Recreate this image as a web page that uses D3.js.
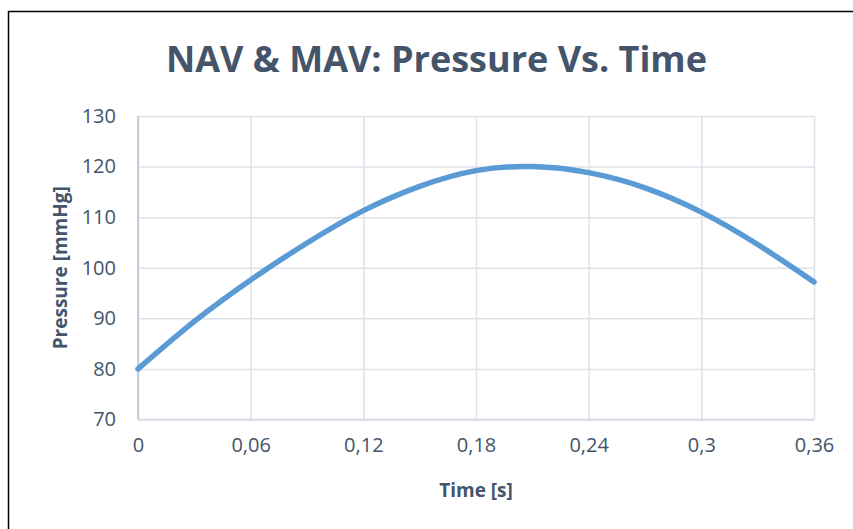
<!DOCTYPE html>
<html>
<head>
<meta charset="utf-8">
<script src="https://cdn.jsdelivr.net/npm/d3@7"></script>
<style>
  html, body { margin: 0; padding: 0; background: #fff; }
  svg { display: block; }
</style>
</head>
<body>
<svg id="chart" width="853" height="529"></svg>
<script>
// Aortic pressure over one cardiac cycle
const timeS = [0, 0.03, 0.06, 0.09, 0.12, 0.15, 0.18, 0.21, 0.24, 0.27, 0.30, 0.33, 0.36];
const pressureMmHg = [80, 89.4, 97.6, 104.9, 111.3, 116.1, 119.2, 120.0, 118.8, 115.8, 111.0, 104.6, 97.2];
const xTicks = [0, 0.06, 0.12, 0.18, 0.24, 0.3, 0.36];
const yTicks = [70, 80, 90, 100, 110, 120, 130];

const titleText = "NAV & MAV: Pressure Vs. Time";
const xTitle = "Time [s]";
const yTitle = "Pressure [mmHg]";

const textColor = "#44546a";
const font = "'Open Sans', 'DejaVu Sans', sans-serif";

const svg = d3.select("#chart");
const plot = { left: 138, right: 814, top: 116, bottom: 419.5 };

const x = d3.scaleLinear().domain([0, 0.36]).range([plot.left, plot.right]);
const y = d3.scaleLinear().domain([70, 130]).range([plot.bottom, plot.top]);

// outer chart frame
svg.append("rect")
  .attr("x", 8.5).attr("y", 11.5)
  .attr("width", 900).attr("height", 600)
  .attr("fill", "#fff")
  .attr("stroke", "#000").attr("stroke-width", 1.5);

// title
svg.append("text")
  .attr("x", 436.5)
  .attr("y", 72)
  .attr("text-anchor", "middle")
  .attr("font-family", font)
  .attr("font-weight", "bold")
  .attr("font-size", 36)
  .attr("fill", textColor)
  .text(titleText);

const fmt = v => String(+v.toFixed(2)).replace(".", ",");

// horizontal gridlines + y labels
const yAxis = svg.append("g")
  .attr("transform", `translate(${plot.left},0)`)
  .call(d3.axisLeft(y).tickValues(yTicks).tickSize(-(plot.right - plot.left)).tickPadding(22).tickFormat(d => d));
yAxis.select(".domain").remove();
yAxis.selectAll(".tick line").attr("stroke", "#dde1e8").attr("stroke-width", 1.5);
yAxis.selectAll(".tick text")
  .attr("font-family", font).attr("font-size", 20).attr("fill", textColor);

// vertical gridlines + x labels
const xAxis = svg.append("g")
  .attr("transform", `translate(0,${plot.bottom})`)
  .call(d3.axisBottom(x).tickValues(xTicks).tickSize(-(plot.bottom - plot.top)).tickPadding(18).tickFormat(fmt));
xAxis.select(".domain").remove();
xAxis.selectAll(".tick line").attr("stroke", "#dde1e8").attr("stroke-width", 1.5);
xAxis.selectAll(".tick text")
  .attr("font-family", font).attr("font-size", 20).attr("fill", textColor);

// axis lines
svg.append("line")
  .attr("x1", plot.left).attr("x2", plot.right)
  .attr("y1", plot.bottom).attr("y2", plot.bottom)
  .attr("stroke", "#d4dae4").attr("stroke-width", 1.5);
svg.append("line")
  .attr("x1", plot.left).attr("x2", plot.left)
  .attr("y1", plot.top).attr("y2", plot.bottom)
  .attr("stroke", "#b4c2d6").attr("stroke-width", 1.5);

// pressure curve
const line = d3.line()
  .x((d, i) => x(timeS[i]))
  .y(d => y(d))
  .curve(d3.curveNatural);
svg.append("path")
  .datum(pressureMmHg)
  .attr("d", line)
  .attr("fill", "none")
  .attr("stroke", "#5b9bd5")
  .attr("stroke-width", 5.5)
  .attr("stroke-linecap", "round");

// axis titles
svg.append("text")
  .attr("x", (plot.left + plot.right) / 2)
  .attr("y", 497)
  .attr("text-anchor", "middle")
  .attr("font-family", font).attr("font-weight", "bold")
  .attr("font-size", 19).attr("fill", textColor)
  .text(xTitle);

svg.append("text")
  .attr("transform", `translate(67,${(plot.top + plot.bottom) / 2}) rotate(-90)`)
  .attr("text-anchor", "middle")
  .attr("font-family", font).attr("font-weight", "bold")
  .attr("font-size", 19).attr("fill", textColor)
  .text(yTitle);
</script>
</body>
</html>
